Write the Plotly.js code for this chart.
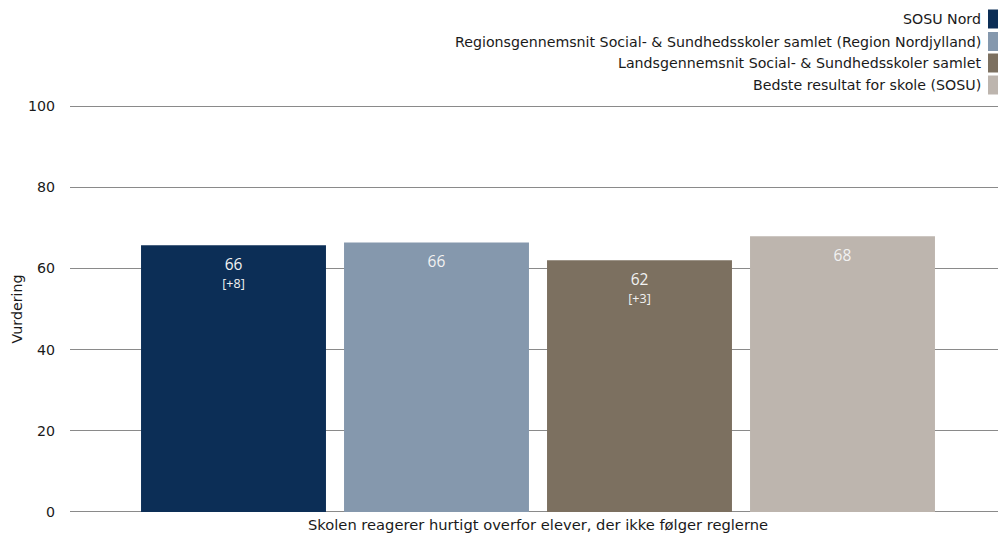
<!DOCTYPE html>
<html>
<head>
<meta charset="utf-8">
<script src="https://cdn.plot.ly/plotly-3.0.1.min.js"></script>
<style>html,body{margin:0;padding:0;background:#fff;}#chart{width:998px;height:533px;}</style>
</head>
<body>
<div id="chart"></div>
<script>
const category = ["Skolen reagerer hurtigt overfor elever, der ikke følger reglerne"];
const seriesNames = [
  "SOSU Nord",
  "Regionsgennemsnit Social- & Sundhedsskoler samlet (Region Nordjylland)",
  "Landsgennemsnit Social- & Sundhedsskoler samlet",
  "Bedste resultat for skole (SOSU)"
];
const seriesValues = [65.7, 66.4, 62.0, 67.9];
const valueLabels = ["66", "66", "62", "68"];
const diffLabels = ["[+8]", "", "[+3]", ""];
const seriesColors = ["#0c2e56", "#8598ad", "#7c7060", "#bdb5ae"];
const yTicks = [0, 20, 40, 60, 80, 100];

const FONT = "DejaVu Sans, Verdana, sans-serif";

// label layout: tiny invisible spacer line, then value, then difference
const BR = "<br>";
const spacer = "<span style='font-size:2px;color:rgba(0,0,0,0)'>.</span>";
function makeLabel(v, d) {
  let s = spacer + BR.repeat(11) + "<span style='font-size:15.5px'>" + v + "</span>";
  if (d) s += BR.repeat(10) + "<span style='font-size:12.5px'>" + d + "</span>";
  return s;
}

const traces = seriesNames.map((name, i) => ({
  type: "bar",
  name: name,
  x: category,
  y: [seriesValues[i]],
  marker: {color: seriesColors[i]},
  text: [makeLabel(valueLabels[i], diffLabels[i])],
  textposition: "inside",
  insidetextanchor: "end",
  textangle: 0,
  textfont: {family: "Open Sans, Noto Sans, sans-serif", size: 1.385, color: "#f2f2f2"},
  hoverinfo: "skip",
  showlegend: false
}));

// plot area: range padded by 0.5 so the 0 and 100 grid lines are drawn
const plotTop = 104, plotBottom = 514, plotLeft = 70, plotRight = 998;
const pH = plotBottom - plotTop, pW = plotRight - plotLeft;

// custom legend (text right-aligned, swatch on the right)
const legendRowsPx = [19, 41.5, 63, 85];
const annotations = seriesNames.map((name, i) => ({
  xref: "paper", yref: "paper",
  x: (983 - plotLeft) / pW, y: (plotBottom - legendRowsPx[i]) / pH,
  xanchor: "right", yanchor: "middle",
  text: name, showarrow: false,
  font: {family: FONT, size: 14.2, color: "#1a1a1a"}
}));
const shapes = seriesNames.map((name, i) => ({
  type: "rect", xref: "paper", yref: "paper",
  x0: (988 - plotLeft) / pW, x1: (998 - plotLeft) / pW,
  y0: (plotBottom - legendRowsPx[i] - 9.5) / pH, y1: (plotBottom - legendRowsPx[i] + 9.5) / pH,
  fillcolor: seriesColors[i], line: {width: 0}
}));

const shift = 4 / pW;
const layout = {
  width: 998, height: 533,
  margin: {l: plotLeft, r: 998 - plotRight, t: plotTop, b: 533 - plotBottom, pad: 0},
  paper_bgcolor: "#fff", plot_bgcolor: "#fff",
  font: {family: FONT, size: 14.2, color: "#1a1a1a"},
  barmode: "group",
  bargap: 0.125,
  bargroupgap: 0.089,
  showlegend: false,
  xaxis: {
    type: "category",
    range: [-0.5 - shift, 0.5 - shift],
    showgrid: false, zeroline: false, showline: false,
    ticks: "", tickfont: {family: FONT, size: 14.7, color: "#1a1a1a"},
    automargin: false
  },
  yaxis: {
    range: [-0.5, 100.5], tickvals: yTicks, ticktext: yTicks.map(String),
    showgrid: true, gridcolor: "#8a8a8a", gridwidth: 1,
    zeroline: false, showline: false, ticks: "",
    ticklabelstandoff: 14,
    tickfont: {family: FONT, size: 14.2, color: "#1a1a1a"},
    title: {text: "Vurdering", font: {family: FONT, size: 14.2, color: "#1a1a1a"}, standoff: 1},
    automargin: false
  },
  annotations: annotations,
  shapes: shapes
};

Plotly.newPlot("chart", traces, layout, {displayModeBar: false, staticPlot: true});
</script>
</body>
</html>
